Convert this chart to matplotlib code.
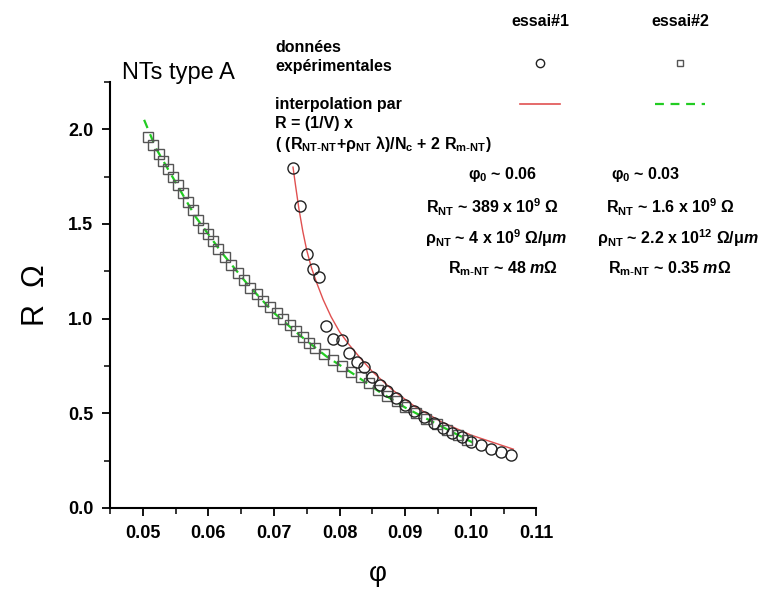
import matplotlib
matplotlib.use("Agg")
import matplotlib.pyplot as plt
from matplotlib.ticker import MultipleLocator, FormatStrFormatter
from matplotlib.lines import Line2D

plt.rcParams['font.family'] = ['Liberation Sans', 'DejaVu Sans']
plt.rcParams['mathtext.fontset'] = 'custom'
plt.rcParams['mathtext.default'] = 'regular'
plt.rcParams['mathtext.it'] = 'Liberation Sans:bold:italic'
plt.rcParams['mathtext.fallback'] = 'stixsans'

# essai#1 : données expérimentales (cercles)
phi_essai1 = [0.0729, 0.0739, 0.0750, 0.0759, 0.0769, 0.0780, 0.0790, 0.0803, 0.0814,
              0.0826, 0.0838, 0.0849, 0.0861, 0.0872, 0.0886, 0.0900, 0.0914, 0.0929,
              0.0944, 0.0958, 0.0972, 0.0986, 0.1000, 0.1015, 0.1031, 0.1046, 0.1062]
R_essai1 = [1.797, 1.593, 1.339, 1.263, 1.218, 0.959, 0.893, 0.889, 0.819,
            0.769, 0.746, 0.690, 0.650, 0.618, 0.580, 0.545, 0.510, 0.478,
            0.447, 0.420, 0.395, 0.372, 0.350, 0.330, 0.311, 0.294, 0.277]

# essai#2 : données expérimentales (carrés)
phi_essai2 = [0.0508, 0.0516, 0.0524, 0.0531, 0.0539, 0.0546, 0.0554, 0.0561, 0.0569,
              0.0576, 0.0584, 0.0592, 0.0599, 0.0607, 0.0615, 0.0625, 0.0635, 0.0645,
              0.0654, 0.0664, 0.0674, 0.0684, 0.0694, 0.0704, 0.0714, 0.0724, 0.0734,
              0.0744, 0.0753, 0.0763, 0.0777, 0.0790, 0.0804, 0.0818, 0.0832, 0.0845,
              0.0859, 0.0873, 0.0887, 0.0900, 0.0916, 0.0932, 0.0948, 0.0964, 0.0980,
              0.0995]
R_essai2 = [1.958, 1.915, 1.870, 1.832, 1.789, 1.749, 1.704, 1.664, 1.617,
            1.572, 1.520, 1.477, 1.445, 1.408, 1.370, 1.325, 1.282, 1.242,
            1.205, 1.164, 1.129, 1.094, 1.059, 1.027, 0.996, 0.965, 0.934,
            0.902, 0.873, 0.843, 0.812, 0.782, 0.750, 0.720, 0.690, 0.660,
            0.625, 0.593, 0.562, 0.535, 0.503, 0.472, 0.442, 0.414, 0.385,
            0.356]

# courbes d'interpolation
phi_fit1 = [0.0729, 0.0733, 0.0738, 0.0744, 0.0750, 0.0757, 0.0765, 0.0775, 0.0787,
            0.0800, 0.0815, 0.0832, 0.0850, 0.0880, 0.0915, 0.0955, 0.1000, 0.1065]
R_fit1 = [1.800, 1.700, 1.580, 1.460, 1.360, 1.270, 1.190, 1.100, 1.010,
          0.930, 0.860, 0.790, 0.720, 0.625, 0.535, 0.455, 0.385, 0.310]
phi_fit2 = [0.0502, 0.0520, 0.0550, 0.0580, 0.0620, 0.0660, 0.0700, 0.0740, 0.0780,
            0.0820, 0.0860, 0.0900, 0.0950, 0.1003]
R_fit2 = [2.050, 1.900, 1.720, 1.540, 1.350, 1.180, 1.030, 0.910, 0.800,
          0.710, 0.615, 0.530, 0.440, 0.345]

red = '#e05050'
green = '#22cc22'

fig = plt.figure(figsize=(7.64, 5.94), dpi=100)
ax = fig.add_axes([0.144, 0.145, 0.558, 0.717])

ax.plot(phi_fit1, R_fit1, color=red, lw=1.0, zorder=2)
ax.plot(phi_fit2, R_fit2, color=green, lw=1.6, ls=(0, (4, 3)), zorder=2)
ax.plot(phi_essai2, R_essai2, ls='none', marker='s', ms=7, mfc='none',
        mec='#555555', mew=1.0, zorder=3)
ax.plot(phi_essai1, R_essai1, ls='none', marker='o', ms=8, mfc='none',
        mec='#222222', mew=1.0, zorder=3)

ax.set_xlim(0.045, 0.11)
ax.set_ylim(0.0, 2.25)
ax.xaxis.set_major_locator(MultipleLocator(0.01))
ax.xaxis.set_minor_locator(MultipleLocator(0.005))
ax.yaxis.set_major_locator(MultipleLocator(0.5))
ax.yaxis.set_minor_locator(MultipleLocator(0.25))
ax.xaxis.set_major_formatter(FormatStrFormatter('%.2f'))
ax.yaxis.set_major_formatter(FormatStrFormatter('%.1f'))
for s in ['top', 'right']:
    ax.spines[s].set_visible(False)
for s in ['left', 'bottom']:
    ax.spines[s].set_linewidth(1.5)
ax.tick_params(which='major', direction='out', length=6, width=1.3,
               labelsize=13, pad=6)
ax.tick_params(which='minor', direction='out', length=4, width=1.1)
for lab in ax.get_xticklabels() + ax.get_yticklabels():
    lab.set_fontweight('bold')

ax.set_ylabel('R  Ω', fontsize=22, labelpad=12)

W, H = 764.0, 594.0
def ftext(x, y, s, **kw):
    kw.setdefault('fontweight', 'bold')
    kw.setdefault('fontsize', 11.5)
    fig.text(x / W, 1 - y / H, s, va='center', **kw)

# titre de l'axe x
fig.text(378 / W, 1 - 574 / H, 'φ', fontsize=20, ha='center', va='center')
fig.text(122 / W, 1 - 73 / H, 'NTs type A', fontsize=17, va='center')

ftext(540, 22, 'essai#1', ha='center')
ftext(680, 22, 'essai#2', ha='center')
ftext(275, 48, 'données')
ftext(275, 66, 'expérimentales')
ftext(275, 105, 'interpolation par')
ftext(275, 124, 'R = (1/V) x')
ftext(275, 144, r'( (R$_{NT\text{-}NT}$+ρ$_{NT}$ λ)/N$_{c}$ + 2 R$_{m\text{-}NT}$)')

fig.add_artist(Line2D([540 / W], [1 - 63 / H], marker='o', ms=6, mfc='none',
                      mec='#222222', mew=1.0, transform=fig.transFigure))
fig.add_artist(Line2D([680 / W], [1 - 63 / H], marker='s', ms=5, mfc='none',
                      mec='#555555', mew=1.0, transform=fig.transFigure))
fig.add_artist(Line2D([520 / W, 560 / W], [1 - 104 / H] * 2, color=red, lw=1.2,
                      transform=fig.transFigure))
fig.add_artist(Line2D([655 / W, 705 / W], [1 - 104 / H] * 2, color=green, lw=1.6,
                      ls=(0, (4, 3)), transform=fig.transFigure))

ftext(503, 175, r'φ$_{0}$ ~ 0.06', ha='center')
ftext(493, 207, r'R$_{NT}$ ~ 389 x 10$^{9}$ Ω', ha='center')
ftext(496, 238, r'ρ$_{NT}$ ~ 4 x 10$^{9}$ Ω/μ$\mathit{m}$', ha='center')
ftext(503, 269, r'R$_{m\text{-}NT}$ ~ 48 $\mathit{m}$Ω', ha='center')

ftext(646, 175, r'φ$_{0}$ ~ 0.03', ha='center')
ftext(670, 207, r'R$_{NT}$ ~ 1.6 x 10$^{9}$ Ω', ha='center')
ftext(678, 238, r'ρ$_{NT}$ ~ 2.2 x 10$^{12}$ Ω/μ$\mathit{m}$', ha='center')
ftext(670, 269, r'R$_{m\text{-}NT}$ ~ 0.35 $\mathit{m}$Ω', ha='center')

fig.savefig('out.png', dpi=100)
